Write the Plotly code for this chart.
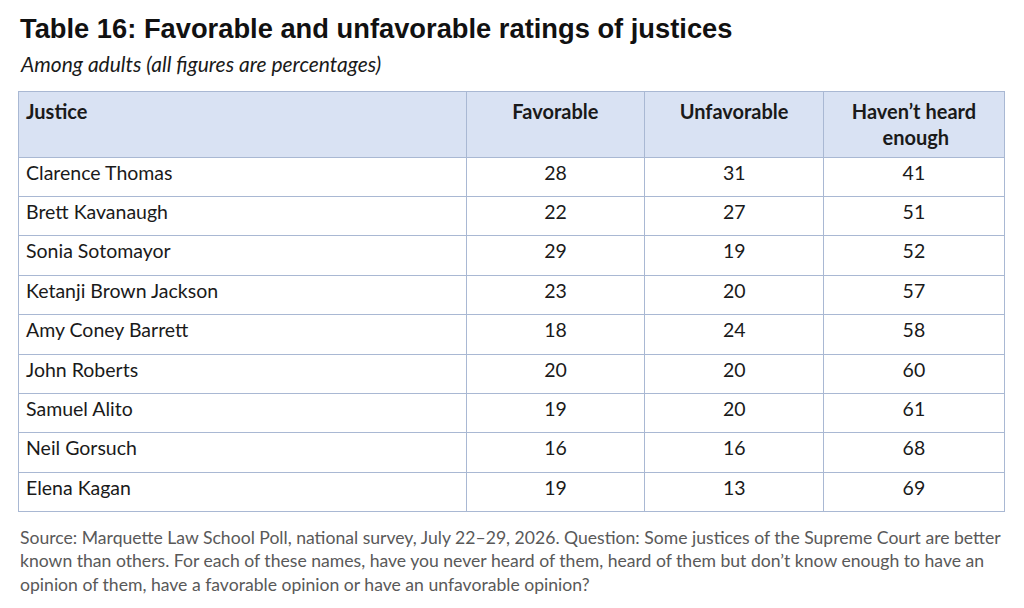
import plotly.graph_objects as go

# ── data ─────────────────────────────────────────────────────────────────────

justices = [
    "Clarence Thomas", "Brett Kavanaugh", "Sonia Sotomayor",
    "Ketanji Brown Jackson", "Amy Coney Barrett", "John Roberts",
    "Samuel Alito", "Neil Gorsuch", "Elena Kagan",
]
favorable = [28, 22, 29, 23, 18, 20, 19, 16, 19]
unfavorable = [31, 27, 19, 20, 24, 20, 20, 16, 13]
not_heard = [41, 51, 52, 57, 58, 60, 61, 68, 69]
columns = ["Justice", "Favorable", "Unfavorable", "Haven’t heard", "enough"]

source_lines = [
    "Source: Marquette Law School Poll, national survey, July 22–29, 2026. Question: Some justices of the Supreme Court are better",
    "known than others. For each of these names, have you never heard of them, heard of them but don’t know enough to have an",
    "opinion of them, have a favorable opinion or have an unfavorable opinion?",
]

# ── style ────────────────────────────────────────────────────────────────────

W, H = 1024, 608
DX, DY = 10, 9          # page offset seen in the screenshot
LINE = "#a9b8d3"
HEADER_FILL = "#d9e2f3"
FONT = "Lato, Carlito, sans-serif"

# the table centres the text block, not each line, so pad the short 2nd line
NBSP = "\u00a0"
header = [f"<b>{c}</b>" for c in columns[:3]]
header.append(f"<b>{columns[3]}</b><br>{NBSP * 6}<b>{columns[4]}</b>")


def px_x(x):
    return (x - DX) / W


def px_y(y):
    return 1 - (y - DY) / H


fig = go.Figure(go.Table(
    domain=dict(x=[px_x(20), px_x(1006)], y=[px_y(514), px_y(92)]),
    columnwidth=[448, 178, 179, 180],
    header=dict(
        values=header,
        fill_color=HEADER_FILL,
        line=dict(color=LINE, width=1),
        align=["left", "center", "center", "center"],
        font=dict(family=FONT, size=20, color="#1a1a1a"),
        height=63,
    ),
    cells=dict(
        values=[justices, favorable, unfavorable, not_heard],
        fill_color="white",
        line=dict(color=LINE, width=1),
        align=["left", "center", "center", "center"],
        font=dict(family=FONT, size=19.5, color="#1a1a1a"),
        height=39.4,
    ),
))

fig.add_annotation(
    text="<b>Table 16: Favorable and unfavorable ratings of justices</b>",
    x=px_x(20), y=px_y(12), xref="paper", yref="paper",
    xanchor="left", yanchor="top", showarrow=False,
    font=dict(family="Liberation Sans, Arial, sans-serif", size=27.3, color="#111111"),
)
fig.add_annotation(
    text="<i>Among adults (all figures are percentages)</i>",
    x=px_x(20), y=px_y(50), xref="paper", yref="paper",
    xanchor="left", yanchor="top", showarrow=False,
    font=dict(family=FONT, size=21, color="#1a1a1a"),
)
for i, line in enumerate(source_lines):
    fig.add_annotation(
        text=line,
        x=px_x(20), y=px_y(538 + i * 23.5), xref="paper", yref="paper",
        xanchor="left", yanchor="middle", align="left", showarrow=False,
        font=dict(family=FONT, size=17.6, color="#595959"),
    )

fig.update_layout(
    width=W, height=H,
    margin=dict(l=0, r=0, t=0, b=0),
    paper_bgcolor="white",
)

fig.write_html("out.html")
